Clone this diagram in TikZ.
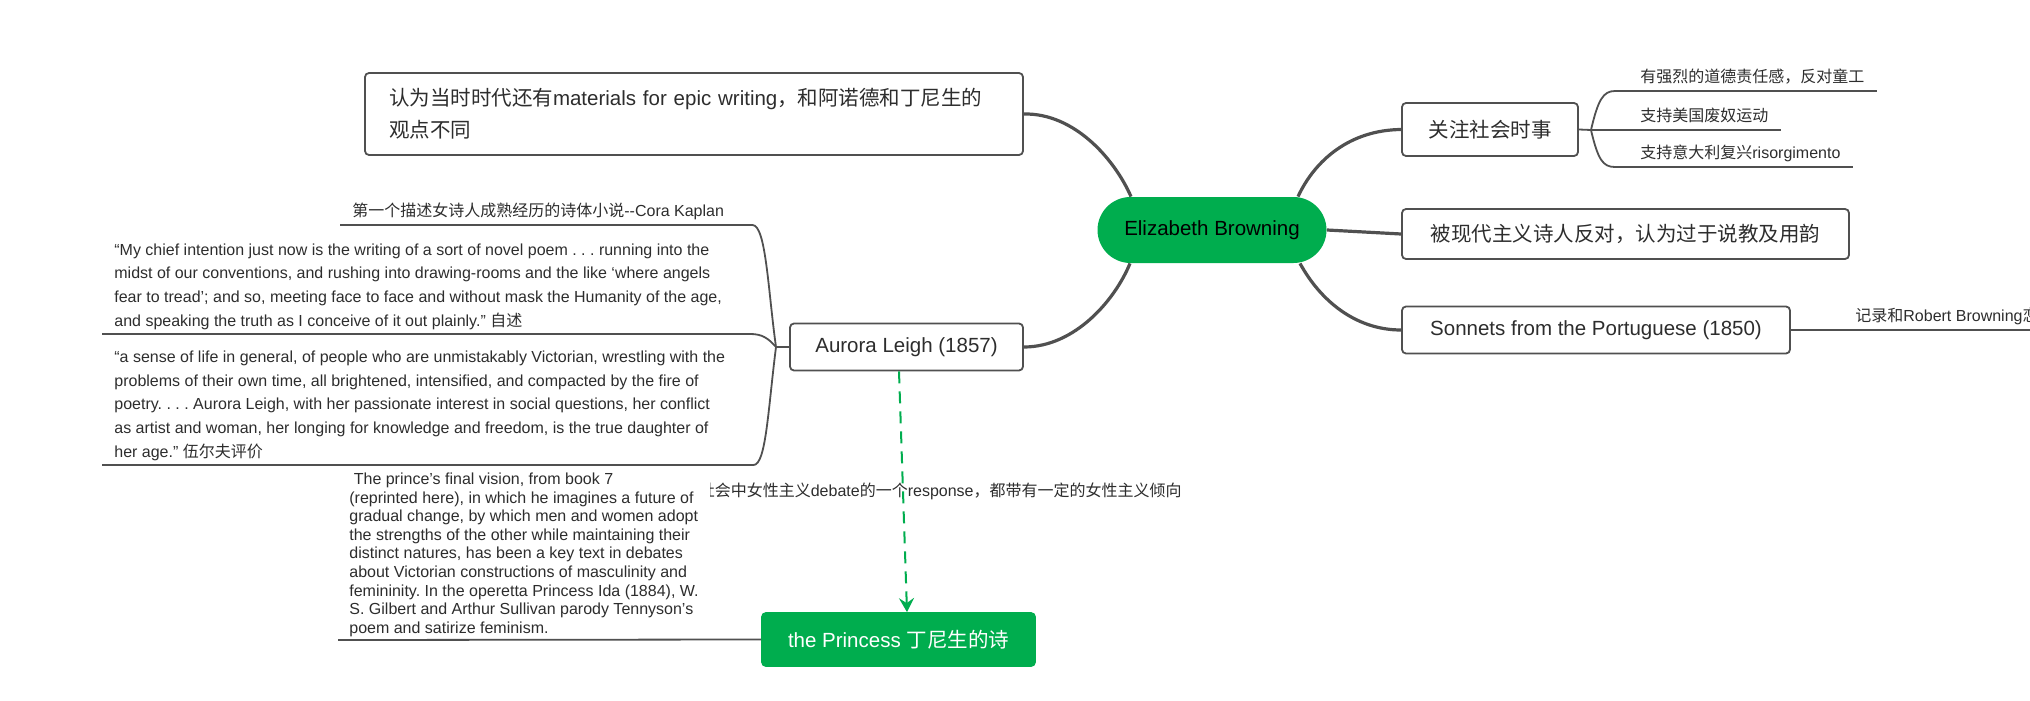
\documentclass[tikz,border=0pt]{standalone}
\usepackage{fontspec}
\setmainfont{Liberation Sans}
\newfontfamily\zhfont{Noto Sans CJK SC}
\usetikzlibrary{arrows.meta, positioning}
\definecolor{cGreen}{RGB}{0,173,78}
\definecolor{cLine}{RGB}{80,80,80}
\definecolor{cText}{RGB}{45,45,45}
\newcommand\zh[1]{{\zhfont #1}}
\newcommand\bigfont{\fontsize{10.25}{16}\selectfont}
\newcommand\smallfont{\fontsize{8}{11.8}\selectfont}
\newcommand\quotefont{\fontsize{8}{11.85}\selectfont}
\newcommand\notefont{\fontsize{8}{9.3}\selectfont}
\frenchspacing

\begin{document}
\begin{tikzpicture}[x=0.5pt, y=-0.5pt,
    mainline/.style={draw=cLine, line width=1.6pt},
    subline/.style={draw=cLine, line width=0.9pt},
    topic/.style={draw=cLine, line width=0.9pt, rounded corners=2pt, fill=white, text=cText, font=\bigfont, inner sep=0pt, align=center},
    rootnode/.style={fill=cGreen, rounded corners=16.5pt, minimum width=114.5pt, minimum height=33pt, font=\bigfont, inner sep=0pt},
    leaf/.style={text=cText, font=\smallfont, inner xsep=6pt, inner ysep=2pt, text depth=2pt},
    quote/.style={text=cText, font=\quotefont, inner xsep=6pt, inner ysep=2pt, align=left, anchor=south west},
    relline/.style={draw=cGreen, line width=1pt, dash pattern=on 6pt off 4pt, -{Stealth[length=7pt, width=7.5pt, inset=2.5pt]}}]
    \useasboundingbox (0,0) rectangle (2030,701);
    % main topics
    \node[rootnode] (eb) at (1212,230) {Elizabeth Browning};
    \node[topic, minimum width=329pt, minimum height=41pt, text width=305pt, align=left] (epic) at (694,114)
        {\zh{认为当时时代还有}materials for epic writing\zh{，和阿诺德和丁尼生的}\\\zh{观点不同}};
    \node[topic, minimum width=88pt, minimum height=26.5pt] (social) at (1490,129.5) {\zh{关注社会时事}};
    \node[topic, minimum width=223.5pt, minimum height=25pt] (modern) at (1625.5,234) {\zh{被现代主义诗人反对，认为过于说教及用韵}};
    \node[topic, minimum width=194pt, minimum height=23.5pt] (sonnets) at (1596,330) {Sonnets from the Portuguese (1850)};
    \node[topic, minimum width=116.5pt, minimum height=23.5pt] (aurora) at (906.5,347) {Aurora Leigh (1857)};
    \node[topic, draw=cGreen, fill=cGreen, text=white, minimum width=136.5pt, minimum height=26.5pt] (princess) at (898.5,639.5)
        {the Princess \zh{丁尼生的诗}};
    % right leaves
    \node[leaf, anchor=south west] (s1) at (1628,91) {\zh{有强烈的道德责任感，反对童工}};
    \node[leaf, anchor=south west] (s2) at (1628,130) {\zh{支持美国废奴运动}};
    \node[leaf, anchor=south west] (s3) at (1628,167) {\zh{支持意大利复兴}risorgimento};
    \node[leaf, anchor=south west] (sn1) at (1843,330) {\zh{记录和}Robert Browning\zh{恋}};
    \coordinate (sroot) at (1591,130);
    % left leaves
    \node[leaf, anchor=south west] (a1) at (340,225)
        {\zh{第一个描述女诗人成熟经历的诗体小说}-{}-Cora Kaplan};
    \node[quote] (q1) at (102,334)
        {“My chief intention just now is the writing of a sort of novel poem . . . running into the\\
         midst of our conventions, and rushing into drawing-rooms and the like ‘where angels\\
         fear to tread’; and so, meeting face to face and without mask the Humanity of the age,\\
         and speaking the truth as I conceive of it out plainly.” \zh{自述}};
    \node[quote] (q2) at (102,465)
        {“a sense of life in general, of people who are unmistakably Victorian, wrestling with the\\
         problems of their own time, all brightened, intensified, and compacted by the fire of\\
         poetry. . . . Aurora Leigh, with her passionate interest in social questions, her conflict\\
         as artist and woman, her longing for knowledge and freedom, is the true daughter of\\
         her age.” \zh{伍尔夫评价}};
    \coordinate (ajunc) at (776,347);
    % relation
    \draw[relline] ([xshift=-3.75pt]aurora.south) -- ([xshift=4.25pt]princess.north);
    \node[leaf, anchor=east, inner sep=0pt] (rlabel) at (1182,492)
        {\zh{社会中女性主义}debate\zh{的一个}response\zh{，都带有一定的女性主义倾向}};
    \node[quote, font=\notefont, fill=white, inner xsep=5.5pt, inner ysep=1.5pt] (p1) at (338,640)
        {\ The prince’s final vision, from book 7\\
         (reprinted here), in which he imagines a future of\\
         gradual change, by which men and women adopt\\
         the strengths of the other while maintaining their\\
         distinct natures, has been a key text in debates\\
         about Victorian constructions of masculinity and\\
         femininity. In the operetta Princess Ida (1884), W.\\
         S. Gilbert and Arthur Sullivan parody Tennyson’s\\
         poem and satirize feminism.};
    % branches
    \draw[mainline] (epic.east) .. controls (1075,113) and (1115,160) .. ([xshift=-40.5pt]eb.north);
    \draw[mainline] (aurora.east) .. controls (1075,347) and (1115,300) .. ([xshift=-41pt]eb.south);
    \draw[mainline] ([xshift=43pt]eb.north) .. controls (1315,160) and (1350,130) .. (social.west);
    \draw[mainline] (eb.east) -- (modern.west);
    \draw[mainline] ([xshift=44pt]eb.south) .. controls (1320,300) and (1355,330) .. (sonnets.west);
    \draw[subline] (social.east) -- (sroot) .. controls (1598,100) and (1603,91) .. ([xshift=-6.5pt]s1.south west) -- (s1.south east);
    \draw[subline] (sroot) -- (s2.south east);
    \draw[subline] (sroot) .. controls (1598,160) and (1603,167) .. ([xshift=-6.5pt]s3.south west) -- (s3.south east);
    \draw[subline] (sonnets.east) -- (sn1.south west) -- (sn1.south east);
    \draw[subline] (aurora.west) -- (ajunc) .. controls (768,290) and (766,225) .. ([xshift=8pt]a1.south east) -- (a1.south west);
    \draw[subline] (ajunc) .. controls (768,338) and (762,334) .. ([xshift=8pt]q1.south east) -- (q1.south west);
    \draw[subline] (ajunc) .. controls (768,410) and (766,465) .. ([xshift=8pt]q2.south east) -- (q2.south west);
    \draw[subline] (princess.west) -- (p1.south west);
\end{tikzpicture}
\end{document}
